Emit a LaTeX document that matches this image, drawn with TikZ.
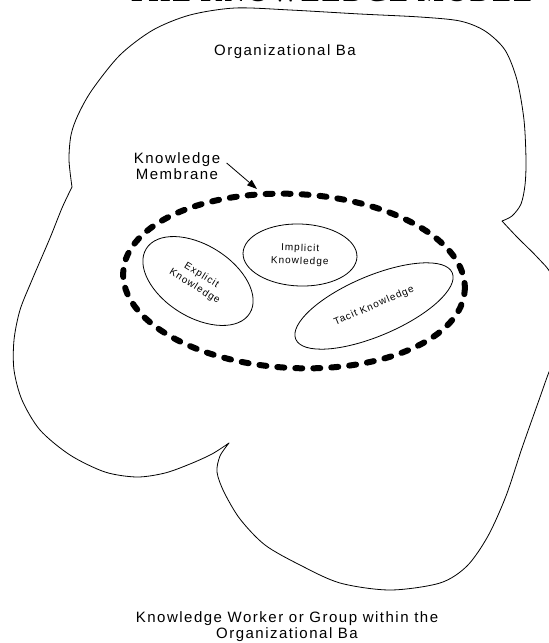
\documentclass[tikz,border=0pt]{standalone}
\usepackage{fontspec}
\setmainfont{Liberation Sans}[LetterSpace=10]
\newfontfamily\ttlfont{Liberation Serif}[LetterSpace=8]
\usetikzlibrary{shapes.geometric,arrows.meta}
\begin{document}
\begin{tikzpicture}[x=1pt,y=-1pt,
    lbl/.style={font=\fontsize{15}{16}\selectfont,align=center},
    kbox/.style={draw,ellipse,line width=.8pt,inner sep=0pt,font=\fontsize{10}{13}\selectfont,align=center},
    membr/.style={draw,ellipse,line width=6pt,line cap=round,dash pattern=on 7pt off 11pt}]
  \useasboundingbox (0,0) rectangle (549,643);
  \clip (0,0) rectangle (549,643);
  % title, cut by the top edge
  \node[anchor=base,font=\ttlfont\bfseries\fontsize{28}{30}\selectfont] (ttl) at (330,1) {THE KNOWLEDGE MODEL};
  % the organizational ba
  \draw[line width=.8pt,line join=round]
    plot[smooth] coordinates {(72,187)(69,160)(71,135)(78,115)(92,90)(120,55)(153,30)(190,15)(235,8)(290,10)(360,14)(420,17)(460,21)(485,31)(505,50)(517,80)(524,120)(526,160)(525,185)(521,204)(512,216)(502,221)}
    -- plot[smooth] coordinates {(502,221)(517,237)(538,258)(552,276)(566,320)(558,352)(549,372)(539,400)(522,448)(506,496)(488,536)(467,566)(440,583)(390,590)(340,583)(300,565)(265,545)(240,519)(224,492)(217,472)(220,456)(229,443)}
    -- plot[smooth] coordinates {(229,443)(212,454)(190,464)(165,473)(137,477)(105,472)(70,455)(40,430)(22,400)(14,370)(14,340)(20,310)(32,280)(50,238)(62,208)(72,187)};
  \node[lbl,anchor=base] (ba) at (285,55) {Organizational Ba};
  % membrane and the three kinds
  \node[membr,minimum width=342pt,minimum height=174pt,rotate=-3] (mem) at (294,281) {};
  \node[kbox,minimum width=122pt,minimum height=72pt,rotate=-32] (expl) at (198,281) {Explicit\\Knowledge};
  \node[kbox,minimum width=114pt,minimum height=62pt,rotate=-2] (impl) at (300,255) {Implicit\\Knowledge};
  \node[kbox,minimum width=170pt,minimum height=60pt,rotate=23] (tac) at (374,306) {Tacit Knowledge};
  \node[lbl] (memlbl) at (177,166) {Knowledge\\Membrane};
  \coordinate (mtip) at (257,189);
  \draw[line width=.8pt,-{Triangle[length=10pt,width=7pt]}] ([shift={(3,-3)}]memlbl.east) -- (mtip);
  % bottom caption
  \node[lbl,anchor=base] (wrk) at (287,638) {Knowledge Worker or Group within the\\Organizational Ba};
\end{tikzpicture}
\end{document}
